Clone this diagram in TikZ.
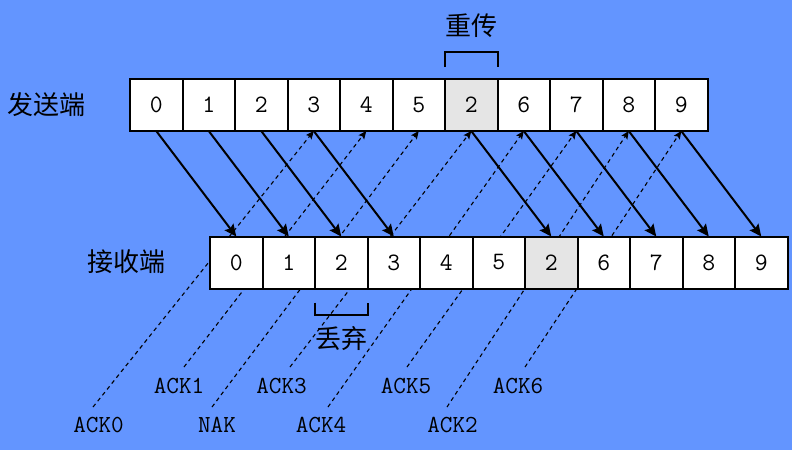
\documentclass[tikz,border=0pt]{standalone}
\usepackage{fontspec}
\newfontfamily\cjk{Noto Sans CJK SC}
\usetikzlibrary{arrows.meta}
\definecolor{bgblue}{RGB}{99,149,255}
\definecolor{cellgray}{RGB}{229,229,229}
\pgfdeclarelayer{bg}
\pgfdeclarelayer{mid}
\pgfsetlayers{bg,mid,main}
\begin{document}
\begin{tikzpicture}[x=1pt,y=-1pt,
  cell/.style={draw=black, line width=2pt, fill=white, minimum width=52.5pt, minimum height=52pt, inner sep=0pt, outer sep=0pt, font=\fontsize{25}{25}\selectfont\ttfamily},
  graycell/.style={cell, fill=cellgray},
  cjklabel/.style={font=\cjk\fontsize{26}{26}\selectfont, inner sep=0pt},
  acklabel/.style={font=\ttfamily\fontsize{24.5}{24.5}\selectfont, inner sep=0pt},
  send/.style={line width=2pt, -{Stealth[length=12pt,width=11pt,inset=2pt]}},
  ack/.style={line width=1.1pt, dash pattern=on 4pt off 3.5pt, -{Stealth[length=8pt,width=7pt,inset=1.5pt]}},
  bracket/.style={line width=2pt}]
\begin{pgfonlayer}{bg}
\fill[white] (0,0) rectangle (794,450);
\fill[bgblue] (0,0) rectangle (792,450);
\end{pgfonlayer}
\useasboundingbox (0,0) rectangle (794,450);

% cells
\foreach \v [count=\i from 0] in {0,1,2,3,4,5,2,6,7,8,9} {
  \ifnum\i=6
    \node[graycell] (s\i) at ({156.25+52.5*\i},105) {\v};
    \node[graycell] (r\i) at ({236.25+52.5*\i},262.5) {\v};
  \else
    \node[cell] (s\i) at ({156.25+52.5*\i},105) {\v};
    \node[cell] (r\i) at ({236.25+52.5*\i},262.5) {\v};
  \fi
}

% side labels
\node[cjklabel] (snd) at (46.5,105) {发送端};
\node[cjklabel] (rcv) at (126,261.5) {接收端};

% brackets
\draw[bracket] ([yshift=12pt]s6.north west) -- ([yshift=27pt]s6.north west) -- ([yshift=27pt]s6.north east) -- ([yshift=12pt]s6.north east);
\node[cjklabel] (retx) at (471,26) {重传};
\draw[bracket] ([yshift=-14pt]r2.south west) -- ([yshift=-26pt]r2.south west) -- ([yshift=-26pt]r2.south east) -- ([yshift=-14pt]r2.south east);
\node[cjklabel] (drop) at (341.5,339) {丢弃};

% ack labels
\node[acklabel] (l0) at (98.5,425) {ACK0};
\node[acklabel] (l1) at (179,386) {ACK1};
\node[acklabel] (l2) at (217,425) {NAK};
\node[acklabel] (l3) at (281.5,386) {ACK3};
\node[acklabel] (l4) at (321,425) {ACK4};
\node[acklabel] (l5) at (406,386) {ACK5};
\node[acklabel] (l6) at (452.5,425) {ACK2};
\node[acklabel] (l7) at (518,386) {ACK6};

\coordinate (a0) at (93,407);
\coordinate (a1) at (184,367);
\coordinate (a2) at (212,407);
\coordinate (a3) at (290,367);
\coordinate (a4) at (328,407);
\coordinate (a5) at (407,367);
\coordinate (a6) at (447,407);
\coordinate (a7) at (525,367);

\begin{pgfonlayer}{mid}
\foreach \k [evaluate=\k as \j using int(\k+3)] in {0,...,7} {
  \draw[ack] (a\k) -- (s\j.south);
}
\end{pgfonlayer}

% data frames
\foreach \i in {0,1,2,3,6,7,8,9,10} {
  \draw[send] (s\i.south) -- (r\i.north);
}
\end{tikzpicture}
\end{document}
